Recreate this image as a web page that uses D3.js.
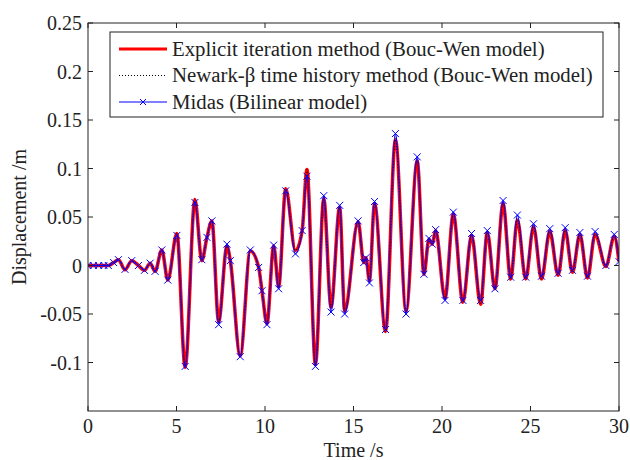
<!DOCTYPE html>
<html>
<head>
<meta charset="utf-8">
<script src="https://cdn.jsdelivr.net/npm/d3@7"></script>
<style>
  html, body { margin: 0; padding: 0; background: #fff; }
  svg { display: block; font-family: "Liberation Serif", "Times New Roman", serif; }
</style>
</head>
<body>
<svg id="chart" width="630" height="460"></svg>
<script>
// ---- data ----
const timeS = [0, 0.3, 0.6, 0.9, 1.15, 1.45, 1.72, 2.09, 2.47, 2.85, 3.19, 3.51, 3.79, 4.17, 4.51,
  5.02, 5.49, 6.04, 6.43, 6.72, 7.0, 7.38, 7.85, 8.04, 8.6, 9.17, 9.64, 9.83, 10.11, 10.49, 10.77,
  11.17, 11.72, 12.1, 12.37, 12.85, 13.32, 13.73, 14.22, 14.5, 15.26, 15.58, 15.7, 15.9, 16.19,
  16.81, 17.37, 17.97, 18.6, 18.98, 19.26, 19.45, 19.64, 20.17, 20.64, 21.18, 21.67, 22.18, 22.56,
  22.99, 23.45, 23.88, 24.26, 24.73, 25.17, 25.62, 26.09, 26.56, 26.96, 27.37, 27.79, 28.22, 28.65,
  29.26, 29.73, 30.0];

const explicitBW = [0, 0, 0, 0, 0, 0.003, 0.006, -0.0045, 0.005, 0.0, -0.005, 0.0024, -0.006, 0.016, -0.015,
  0.033, -0.105, 0.068, 0.005, 0.029, 0.046, -0.058, 0.020, 0.005, -0.093, 0.015, -0.002, -0.026, -0.06, 0.02, -0.022,
  0.079, 0.0155, 0.036, 0.099, -0.102, 0.069, -0.043, 0.060, -0.047, 0.045, 0.003, 0.008, -0.0155, 0.064,
  -0.068, 0.130, -0.047, 0.108, -0.009, 0.027, 0.022, 0.036, -0.034, 0.053, -0.038, 0.031, -0.040, 0.034,
  -0.024, 0.064, -0.014, 0.047, -0.014, 0.040, -0.014, 0.035, -0.010, 0.036, -0.007, 0.032, -0.013, 0.032,
  -0.001, 0.030, 0.004];

const newmarkBW = [0, 0, 0, 0, 0, 0.003, 0.006, -0.0045, 0.005, 0.0, -0.005, 0.0024, -0.006, 0.016, -0.015,
  0.033, -0.105, 0.068, 0.005, 0.029, 0.046, -0.058, 0.020, 0.005, -0.093, 0.015, -0.002, -0.026, -0.06, 0.02, -0.022,
  0.079, 0.0155, 0.036, 0.099, -0.102, 0.069, -0.043, 0.060, -0.047, 0.045, 0.003, 0.008, -0.0155, 0.064,
  -0.068, 0.130, -0.047, 0.108, -0.009, 0.027, 0.022, 0.036, -0.034, 0.053, -0.038, 0.031, -0.040, 0.034,
  -0.024, 0.064, -0.014, 0.047, -0.014, 0.040, -0.014, 0.035, -0.010, 0.036, -0.007, 0.032, -0.013, 0.032,
  -0.001, 0.030, 0.004];

const midasBilinear = [0, 0, 0, 0, 0, 0.003, 0.006, -0.004, 0.005, 0.0, -0.005, 0.0024, -0.006, 0.016, -0.015,
  0.031, -0.104, 0.065, 0.006, 0.029, 0.046, -0.061, 0.022, 0.005, -0.094, 0.016, -0.002, -0.026, -0.061, 0.021, -0.024,
  0.077, 0.012, 0.036, 0.092, -0.104, 0.072, -0.048, 0.062, -0.050, 0.046, 0.003, 0.008, -0.018, 0.066,
  -0.066, 0.136, -0.050, 0.112, -0.009, 0.028, 0.022, 0.037, -0.036, 0.055, -0.036, 0.033, -0.036, 0.036,
  -0.024, 0.067, -0.012, 0.052, -0.012, 0.043, -0.011, 0.038, -0.008, 0.039, -0.005, 0.034, -0.011, 0.035,
  0.000, 0.032, 0.004];

const xTickValues = [0, 5, 10, 15, 20, 25, 30];
const xTickLabels = ["0", "5", "10", "15", "20", "25", "30"];
const yTickValues = [-0.1, -0.05, 0, 0.05, 0.1, 0.15, 0.2, 0.25];
const yTickLabels = ["-0.1", "-0.05", "0", "0.05", "0.1", "0.15", "0.2", "0.25"];
const legendLabels = ["Explicit iteration method (Bouc-Wen model)",
  "Newark-\u03b2 time history method (Bouc-Wen model)",
  "Midas (Bilinear model)"];

// ---- layout ----
const W = 630, H = 460;
const margin = { left: 88, top: 23, right: 11, bottom: 49 };
const pw = W - margin.left - margin.right;
const ph = H - margin.top - margin.bottom;
const svg = d3.select("#chart");
const g = svg.append("g").attr("transform", `translate(${margin.left},${margin.top})`);

const x = d3.scaleLinear().domain([0, 30]).range([0, pw]);
const y = d3.scaleLinear().domain([-0.15, 0.25]).range([ph, 0]);

const axisColor = "#222";
const fontSize = 20;

g.append("defs").append("clipPath").attr("id", "clip")
  .append("rect").attr("x", 0).attr("y", 0).attr("width", pw).attr("height", ph);

// series
const mk = vals => timeS.map((t, i) => ({ t, v: vals[i] }));
const line = d3.line().x(d => x(d.t)).y(d => y(d.v)).curve(d3.curveMonotoneX);

const plot = g.append("g").attr("clip-path", "url(#clip)");
plot.append("path").datum(mk(explicitBW)).attr("d", line)
  .attr("fill", "none").attr("stroke", "#ff0000").attr("stroke-width", 3.5).attr("stroke-linejoin", "round");
plot.append("path").datum(mk(newmarkBW)).attr("d", line)
  .attr("fill", "none").attr("stroke", "#000").attr("stroke-width", 1).attr("stroke-dasharray", "1,2");
const midasData = mk(midasBilinear);
plot.append("path").datum(midasData).attr("d", line)
  .attr("fill", "none").attr("stroke", "#0000ff").attr("stroke-width", 1);

const xMarker = (sel, s) => sel.attr("d", `M${-s},${-s}L${s},${s}M${-s},${s}L${s},${-s}`)
  .attr("fill", "none").attr("stroke", "#0000ff").attr("stroke-width", 1);
plot.selectAll("path.mk").data(midasData).enter().append("path").attr("class", "mk")
  .attr("transform", d => `translate(${x(d.t)},${y(d.v)})`)
  .call(xMarker, 3.5);

// axes box
g.append("rect").attr("x", 0).attr("y", 0).attr("width", pw).attr("height", ph)
  .attr("fill", "none").attr("stroke", axisColor).attr("stroke-width", 1);

const tickLen = 5;
// x ticks (bottom and top, inward)
g.selectAll("line.xtb").data(xTickValues).enter().append("line")
  .attr("x1", d => x(d)).attr("x2", d => x(d)).attr("y1", ph).attr("y2", ph - tickLen)
  .attr("stroke", axisColor);
g.selectAll("line.xtt").data(xTickValues).enter().append("line")
  .attr("x1", d => x(d)).attr("x2", d => x(d)).attr("y1", 0).attr("y2", tickLen)
  .attr("stroke", axisColor);
g.selectAll("text.xl").data(xTickValues).enter().append("text")
  .attr("x", d => x(d)).attr("y", ph + 22).attr("text-anchor", "middle")
  .attr("font-size", fontSize).attr("fill", "#222")
  .text((d, i) => xTickLabels[i]);

// y ticks (left and right, inward)
g.selectAll("line.ytl").data(yTickValues).enter().append("line")
  .attr("x1", 0).attr("x2", tickLen).attr("y1", d => y(d)).attr("y2", d => y(d))
  .attr("stroke", axisColor);
g.selectAll("line.ytr").data(yTickValues).enter().append("line")
  .attr("x1", pw).attr("x2", pw - tickLen).attr("y1", d => y(d)).attr("y2", d => y(d))
  .attr("stroke", axisColor);
g.selectAll("text.yl").data(yTickValues).enter().append("text")
  .attr("x", -6).attr("y", d => y(d)).attr("dy", "0.35em").attr("text-anchor", "end")
  .attr("font-size", fontSize).attr("fill", "#222")
  .text((d, i) => yTickLabels[i]);

// axis titles
svg.append("text").attr("x", margin.left + pw / 2).attr("y", 457).attr("text-anchor", "middle")
  .attr("font-size", fontSize).attr("fill", "#222").text("Time /s");
svg.append("text").attr("transform", `translate(26,${margin.top + ph / 2}) rotate(-90)`)
  .attr("text-anchor", "middle").attr("font-size", fontSize).attr("fill", "#222")
  .text("Displacement /m");

// legend
const lg = svg.append("g");
const lx = 110, ly = 32, lw = 493, lh = 85;
lg.append("rect").attr("x", lx).attr("y", ly).attr("width", lw).attr("height", lh)
  .attr("fill", "#fff").attr("stroke", axisColor).attr("stroke-width", 1);
const rowY = [49, 75.5, 102];
const styles = [
  { stroke: "#ff0000", w: 3, dash: null },
  { stroke: "#000", w: 1, dash: "1,2" },
  { stroke: "#0000ff", w: 1, dash: null }
];
legendLabels.forEach((lab, i) => {
  const ln = lg.append("line").attr("x1", 119).attr("x2", 167).attr("y1", rowY[i]).attr("y2", rowY[i])
    .attr("stroke", styles[i].stroke).attr("stroke-width", styles[i].w);
  if (styles[i].dash) ln.attr("stroke-dasharray", styles[i].dash);
  if (i === 2) {
    lg.append("path").attr("transform", `translate(143,${rowY[i]})`).call(xMarker, 3);
  }
  lg.append("text").attr("x", 172).attr("y", rowY[i]).attr("dy", "0.33em")
    .attr("font-size", 20.8).attr("fill", "#222").text(lab);
});
</script>
</body>
</html>
